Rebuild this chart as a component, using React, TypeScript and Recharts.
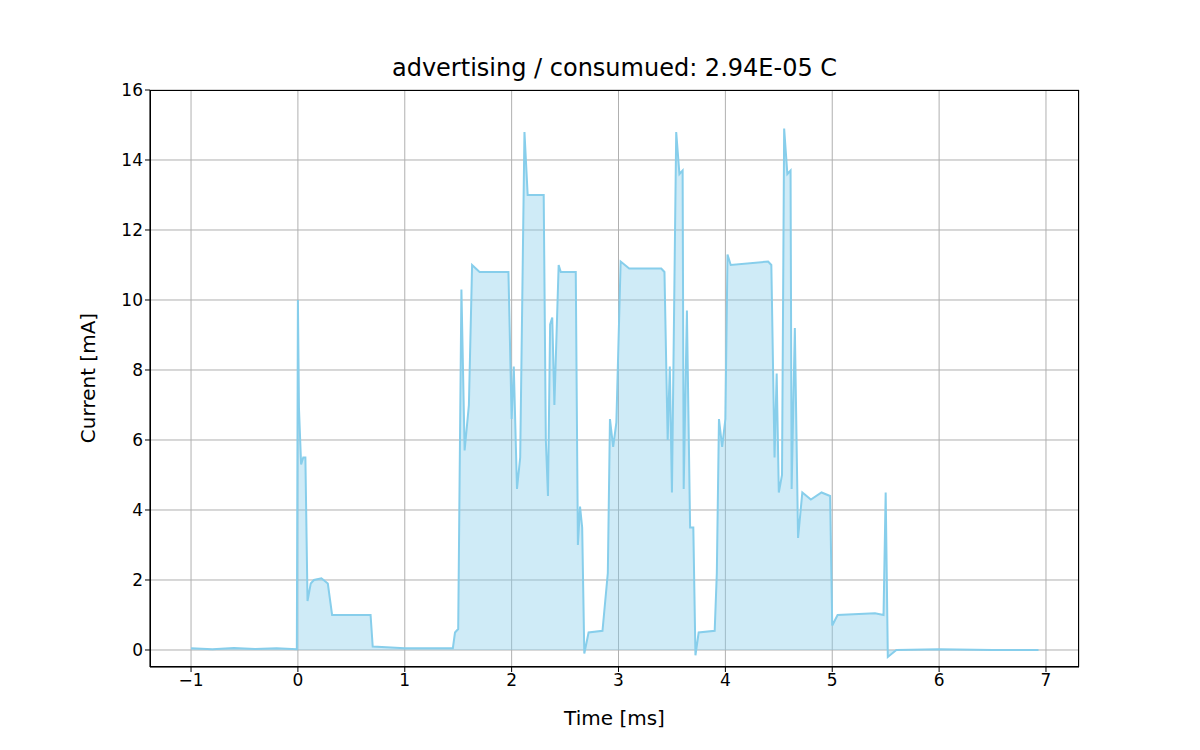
import React from "react";
import { ComposedChart, Area, XAxis, YAxis, CartesianGrid } from "recharts";

const timeMs = [-1,-0.8,-0.6,-0.4,-0.2,-0.01,0,0.01,0.03,0.05,0.07,0.09,0.12,0.15,0.22,0.28,0.32,0.68,0.7,1.0,1.45,1.47,1.5,1.53,1.56,1.6,1.63,1.7,1.9,1.97,2.0,2.02,2.05,2.08,2.12,2.15,2.3,2.32,2.34,2.36,2.38,2.4,2.44,2.46,2.6,2.62,2.64,2.66,2.68,2.72,2.85,2.9,2.92,2.95,2.98,3.02,3.1,3.4,3.43,3.46,3.48,3.5,3.54,3.57,3.6,3.61,3.64,3.67,3.7,3.72,3.75,3.9,3.92,3.94,3.97,4.0,4.02,4.05,4.4,4.43,4.46,4.48,4.5,4.53,4.55,4.58,4.61,4.62,4.65,4.68,4.72,4.8,4.9,4.98,5.0,5.05,5.4,5.48,5.5,5.52,5.6,6,6.5,6.93];
const currentMa = [0.05,0.02,0.06,0.03,0.05,0.02,10.0,6.9,5.3,5.5,5.5,1.4,1.9,2.0,2.05,1.9,1.0,1.0,0.1,0.05,0.05,0.5,0.6,10.3,5.7,7.0,11.0,10.8,10.8,10.8,6.6,8.1,4.6,5.5,14.8,13.0,13.0,6.0,4.4,9.3,9.5,7.0,11.0,10.8,10.8,3.0,4.1,3.5,-0.1,0.5,0.55,2.2,6.6,5.8,6.5,11.1,10.9,10.9,10.8,6.0,8.1,4.5,14.8,13.6,13.7,4.6,9.7,3.5,3.5,-0.15,0.5,0.55,2.2,6.6,5.8,6.6,11.3,11.0,11.1,11.0,5.5,7.9,4.5,5.0,14.9,13.6,13.7,4.6,9.2,3.2,4.5,4.3,4.5,4.4,0.7,1.0,1.05,1.0,4.5,-0.2,0.0,0.02,0.0,0.0];
const xTicks = [-1,0,1,2,3,4,5,6,7];
const yTicks = [0,2,4,6,8,10,12,14,16];

const data = timeMs.map((t, i) => ({ t, v: currentMa[i] }));
const font = "DejaVu Sans, sans-serif";
const fmt = (v: number) => (v < 0 ? "\u2212" + Math.abs(v) : String(v));

export default function App() {
  return (
    <div style={{ margin: -8, position: "relative", width: 1200, height: 750, background: "#fff", fontFamily: font }}>
      <div style={{ position: "absolute", top: 53, left: 150, width: 929, textAlign: "center", fontSize: 24, lineHeight: "30px" }}>
        advertising / consumued: 2.94E-05 C
      </div>
      <div style={{ position: "absolute", top: 706, left: 150, width: 929, textAlign: "center", fontSize: 20, lineHeight: "24px" }}>
        Time [ms]
      </div>
      <div style={{ position: "absolute", left: 88, top: 378, transform: "translate(-50%,-50%) rotate(-90deg)", fontSize: 20, whiteSpace: "nowrap" }}>
        Current [mA]
      </div>
      <ComposedChart width={1200} height={750} data={data} margin={{ top: 90, right: 121, bottom: 53, left: 90 }}>
        <CartesianGrid stroke="#b0b0b0" strokeWidth={1} />
        <XAxis dataKey="t" type="number" domain={[-1.384, 7.309]} ticks={xTicks} tickFormatter={fmt}
          stroke="#000" tick={{ fill: "#000", fontSize: 17, fontFamily: font }} tickSize={5} height={30} allowDataOverflow />
        <YAxis type="number" domain={[-0.486, 16]} ticks={yTicks} stroke="#000" tick={{ fill: "#000", fontSize: 17, fontFamily: font }} tickSize={5} width={60} allowDataOverflow />
        <Area dataKey="v" type="linear" stroke="#87CEEB" strokeWidth={2} fill="#87CEEB" fillOpacity={0.4} baseValue={0} isAnimationActive={false} dot={false} />
      </ComposedChart>
      <div style={{ position: "absolute", left: 150, top: 90, width: 929, height: 577, boxSizing: "border-box", border: "1px solid #000", pointerEvents: "none" }} />
    </div>
  );
}
